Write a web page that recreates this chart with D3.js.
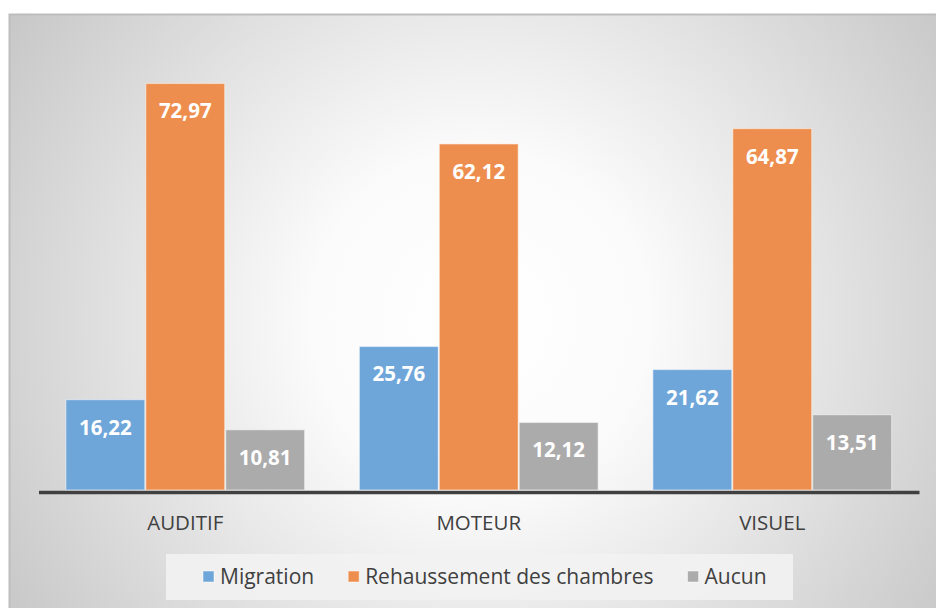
<!DOCTYPE html>
<html><head><meta charset="utf-8">
<script src="https://cdn.jsdelivr.net/npm/d3@7"></script>
<style>html,body{margin:0;padding:0;background:#fff;}svg{display:block;}</style>
</head><body>
<script>
const categories = ["AUDITIF", "MOTEUR", "VISUEL"];
const seriesNames = ["Migration", "Rehaussement des chambres", "Aucun"];
const migration = [16.22, 25.76, 21.62];
const rehaussement = [72.97, 62.12, 64.87];
const aucun = [10.81, 12.12, 13.51];
const seriesValues = [migration, rehaussement, aucun];
const colors = ["#6fa6da", "#ee8e4e", "#ababab"];

const W = 936, H = 608;
const svg = d3.select("body").append("svg").attr("width", W).attr("height", H);
const defs = svg.append("defs");
const rg = defs.append("radialGradient").attr("id", "bg")
  .attr("gradientUnits", "userSpaceOnUse")
  .attr("cx", 480).attr("cy", 320).attr("r", 600);
rg.append("stop").attr("offset", "0").attr("stop-color", "#ffffff");
rg.append("stop").attr("offset", "0.28").attr("stop-color", "#fbfbfb");
rg.append("stop").attr("offset", "1").attr("stop-color", "#c2c2c2");

svg.append("rect").attr("x", 9.5).attr("y", 14.5).attr("width", W).attr("height", H)
  .attr("fill", "url(#bg)").attr("stroke", "#bdbdbd").attr("stroke-width", 2);

const x0 = d3.scaleBand().domain(categories).range([38.5, 919]).paddingInner(0.183).paddingOuter(0.0915);
const x1 = d3.scaleBand().domain(d3.range(seriesNames.length)).range([0, x0.bandwidth()]);
const y = d3.scaleLinear().domain([0, 80]).range([490, 490 - 80 * 5.571]);

const rows = [];
categories.forEach((c, i) => seriesValues.forEach((s, j) => rows.push({c, j, v: s[i]})));
const fmt = v => d3.format(".2f")(v).replace(".", ",");

const g = svg.append("g");
g.selectAll("rect.bar").data(rows).join("rect").attr("class", "bar")
  .attr("x", d => x0(d.c) + x1(d.j) + 0.5)
  .attr("width", x1.bandwidth() - 1)
  .attr("y", d => y(d.v))
  .attr("height", d => y(0) - y(d.v))
  .attr("fill", d => colors[d.j])
  .attr("stroke", "rgba(255,255,255,0.45)").attr("stroke-width", 1.2);

g.selectAll("text.lbl").data(rows).join("text").attr("class", "lbl")
  .attr("x", d => x0(d.c) + x1(d.j) + x1.bandwidth() / 2)
  .attr("y", d => y(d.v) + 35)
  .attr("text-anchor", "middle")
  .attr("font-family", "'Open Sans', sans-serif").attr("font-weight", "bold")
  .attr("font-size", 20.5).attr("fill", "#ffffff")
  .text(d => fmt(d.v));

// baseline axis
const axis = d3.axisBottom(x0).tickSize(0).tickPadding(23);
const ax = svg.append("g").attr("transform", "translate(0,492)").call(axis);
ax.select(".domain").attr("stroke", "#404040").attr("stroke-width", 3.5);
ax.selectAll("text").attr("font-family", "'Open Sans', sans-serif").attr("font-size", 20.5)
  .attr("fill", "#404040");

// legend
const lg = svg.append("g");
lg.append("rect").attr("x", 166).attr("y", 554).attr("width", 627).attr("height", 46)
  .attr("fill", "#f2f2f2").attr("fill-opacity", 0.9);
const items = lg.selectAll("g.item").data(seriesNames).join("g").attr("class", "item");
items.append("rect").attr("width", 11).attr("height", 11).attr("y", 571)
  .attr("fill", (d, i) => colors[i]).attr("stroke", "rgba(255,255,255,0.5)");
items.append("text").attr("y", 584).attr("font-family", "'Open Sans', sans-serif")
  .attr("font-size", 21).attr("fill", "#404040").text(d => d);
let cx = 203;
items.each(function() {
  const s = d3.select(this);
  s.select("rect").attr("x", cx);
  const t = s.select("text").attr("x", cx + 17);
  cx += 17 + t.node().getComputedTextLength() + 34;
});
</script>
</body></html>
